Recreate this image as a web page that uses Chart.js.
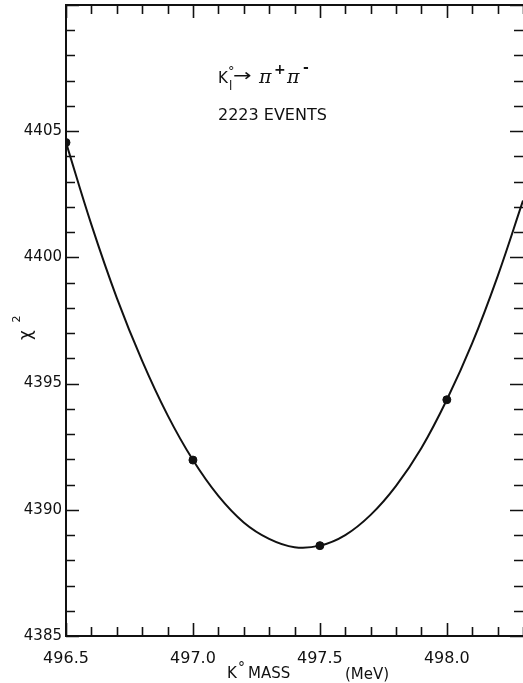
<!DOCTYPE html>
<html lang="en">
<head>
<meta charset="UTF-8">
<title>K0 mass chi-square</title>
<style>
  html, body { margin: 0; padding: 0; background: #fff; }
  #box { width: 523px; height: 683px; position: relative; }
</style>
</head>
<body>
<div id="box"><canvas id="myChart"></canvas></div>
<script src="https://cdn.jsdelivr.net/npm/chart.js@4/dist/chart.umd.min.js"></script>
<script>
// measured points
const pointMass = [496.5, 497.0, 497.5, 498.0];
const pointChi2 = [4404.55, 4391.97, 4388.58, 4394.36];

// smooth curve every 0.1 MeV
const curveMass = [496.5, 496.6, 496.7, 496.8, 496.9, 497.0, 497.1, 497.2, 497.3, 497.4,
                   497.5, 497.6, 497.7, 497.8, 497.9, 498.0, 498.1, 498.2, 498.3];
const curveChi2 = [4404.55, 4401.3, 4398.4, 4395.9, 4393.75, 4391.97, 4390.55, 4389.5, 4388.85, 4388.52,
                   4388.58, 4389.0, 4389.8, 4390.95, 4392.45, 4394.36, 4396.6, 4399.25, 4402.25];

const xLabels = [496.5, 497.0, 497.5, 498.0];
const yLabels = [4385, 4390, 4395, 4400, 4405];
const xMinorStep = 0.1;
const yMinorStep = 1;

const ink = "#111";

// inward ticks on all four sides + frame
const frame = {
    id: "frame",
    afterDraw(chart) {
        const ctx = chart.ctx;
        const a = chart.chartArea;
        const xs = chart.scales.x, ys = chart.scales.y;
        ctx.save();
        ctx.strokeStyle = ink;
        ctx.lineWidth = 2;
        ctx.beginPath();
        ctx.moveTo(a.right + 2, a.top);
        ctx.lineTo(a.left, a.top);
        ctx.lineTo(a.left, a.bottom);
        ctx.lineTo(a.right + 2, a.bottom);
        ctx.stroke();

        ctx.lineWidth = 1.6;
        ctx.beginPath();
        for (let v = xs.min; v <= xs.max + 1e-6; v += xMinorStep) {
            const px = Math.round(xs.getPixelForValue(v)) + 0.5;
            const major = Math.abs(v * 2 - Math.round(v * 2)) < 1e-6;
            const len = major ? 13 : 9;
            ctx.moveTo(px, a.bottom);
            ctx.lineTo(px, a.bottom - len);
            ctx.moveTo(px, a.top);
            ctx.lineTo(px, a.top + len);
        }
        for (let v = ys.min; v <= ys.max + 1e-6; v += yMinorStep) {
            const py = Math.round(ys.getPixelForValue(v)) + 0.5;
            const major = Math.round(v) % 5 === 0;
            const len = major ? 13 : 9;
            ctx.moveTo(a.left, py);
            ctx.lineTo(a.left + len, py);
            ctx.moveTo(a.right, py);
            ctx.lineTo(a.right - len, py);
        }
        ctx.stroke();

        // reaction label
        ctx.fillStyle = ink;
        ctx.textBaseline = "alphabetic";
        ctx.font = "15px 'DejaVu Sans'";
        ctx.fillText("K", 218, 83);
        ctx.font = "13px 'DejaVu Sans'";
        ctx.fillText("°", 228, 75);
        ctx.font = "12px 'DejaVu Sans'";
        ctx.fillText("l", 229, 90);
        ctx.font = "17px 'DejaVu Sans'";
        ctx.save();
        ctx.scale(1.3, 1);
        ctx.fillText("→", 233 / 1.3, 81);
        ctx.restore();
        ctx.font = "italic 19px 'DejaVu Serif'";
        ctx.fillText("π", 259, 83);
        ctx.font = "bold 14px 'DejaVu Sans'";
        ctx.fillText("+", 274, 74);
        ctx.font = "italic 19px 'DejaVu Serif'";
        ctx.fillText("π", 287, 83);
        ctx.font = "bold 14px 'DejaVu Sans'";
        ctx.fillText("-", 303, 72);

        ctx.font = "16px 'DejaVu Sans'";
        ctx.fillText("2223 EVENTS", 218, 120);

        // x axis title
        ctx.font = "15px 'DejaVu Sans'";
        ctx.fillText("K", 227, 678);
        ctx.font = "14px 'DejaVu Sans'";
        ctx.fillText("°", 238, 672);
        ctx.font = "15px 'DejaVu Sans'";
        ctx.fillText("MASS", 248, 678);
        ctx.fillText("(MeV)", 345, 679);

        // y axis title
        ctx.translate(31, 333);
        ctx.rotate(-Math.PI / 2);
        ctx.font = "17px 'DejaVu Sans'";
        ctx.textAlign = "center";
        ctx.fillText("χ", -2, 0);
        ctx.font = "11px 'DejaVu Sans'";
        ctx.fillText("2", 14, -11);
        ctx.restore();
    }
};

new Chart("myChart", {
    type: "scatter",
    data: {
        datasets: [
            {
                label: "fit",
                type: "line",
                data: curveMass.map((m, i) => ({ x: m, y: curveChi2[i] })),
                borderColor: ink,
                borderWidth: 2,
                pointRadius: 0,
                tension: 0.4,
                fill: false,
                order: 2
            },
            {
                label: "points",
                data: pointMass.map((m, i) => ({ x: m, y: pointChi2[i] })),
                backgroundColor: ink,
                borderColor: ink,
                pointRadius: 4,
                order: 1
            }
        ]
    },
    options: {
        responsive: true,
        maintainAspectRatio: false,
        animation: false,
        events: [],
        layout: { autoPadding: false, padding: { top: 5, right: 0, left: 0, bottom: 0 } },
        plugins: { legend: { display: false }, tooltip: { enabled: false } },
        scales: {
            x: {
                type: "linear",
                min: 496.5,
                max: 498.3,
                grid: { display: false, drawTicks: false },
                border: { display: false },
                afterBuildTicks: (s) => { s.ticks = xLabels.map(v => ({ value: v })); },
                afterFit: (s) => { s.height = 47; s.paddingLeft = 0; s.paddingRight = 0; },
                ticks: {
                    padding: 13,
                    color: ink,
                    maxRotation: 0,
                    autoSkip: false,
                    font: { family: "DejaVu Sans", size: 16 },
                    callback: (v) => Number(v).toFixed(1)
                }
            },
            y: {
                type: "linear",
                min: 4385,
                max: 4410,
                grid: { display: false, drawTicks: false },
                border: { display: false },
                afterBuildTicks: (s) => { s.ticks = yLabels.map(v => ({ value: v })); },
                afterFit: (s) => { s.width = 66; s.paddingTop = 0; s.paddingBottom = 0; },
                ticks: {
                    padding: 4,
                    color: ink,
                    autoSkip: false,
                    font: { family: "DejaVu Sans", size: 15 },
                    callback: (v) => String(v)
                }
            }
        }
    },
    plugins: [frame]
});
</script>
</body>
</html>
